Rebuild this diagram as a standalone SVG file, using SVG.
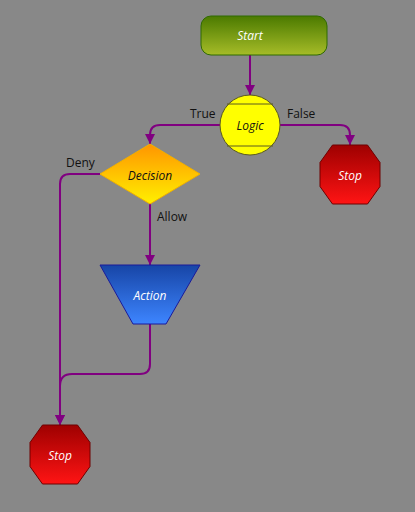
<svg xmlns="http://www.w3.org/2000/svg" width="415" height="512" viewBox="0 0 415 512">
<defs>
<linearGradient id="gStart" x1="0" y1="0" x2="0" y2="1"><stop offset="0" stop-color="#4b7a00"/><stop offset="1" stop-color="#a6bc28"/></linearGradient>
<linearGradient id="gDec" x1="0" y1="0" x2="0" y2="1"><stop offset="0" stop-color="#ff9500"/><stop offset="1" stop-color="#fff000"/></linearGradient>
<linearGradient id="gAct" x1="0" y1="0" x2="0" y2="1"><stop offset="0" stop-color="#1745a6"/><stop offset="1" stop-color="#3d85ff"/></linearGradient>
<linearGradient id="gStop" x1="0" y1="0" x2="0" y2="1"><stop offset="0" stop-color="#9e0000"/><stop offset="1" stop-color="#ff1414"/></linearGradient>
<marker id="arr" viewBox="0 0 10 10" refX="10" refY="5" markerWidth="10" markerHeight="10" markerUnits="userSpaceOnUse" orient="auto"><path d="M0,0 L10,5 L0,10 Z" fill="#800080"/></marker>
</defs>
<style>
.conn{fill:none;stroke:#800080;stroke-width:2;marker-end:url(#arr)}
.lbl{font-family:"Open Sans","Noto Sans",sans-serif;font-size:12px;fill:#111}
.nt{font-family:"Open Sans","Noto Sans",sans-serif;font-size:12px;font-style:italic;text-anchor:middle}
.w{fill:#fff}
.b{fill:#111}
.stop{fill:url(#gStop);stroke:#6e0000;stroke-width:1}
</style>
<rect width="415" height="512" fill="#888888"/>
<g id="connectors">
<path class="conn" d="M250,55 L250,95"/>
<path class="conn" d="M220,125 L160,125 Q150,125 150,135 L150,144"/>
<path class="conn" d="M280,125 L340,125 Q350,125 350,135 L350,145"/>
<path class="conn" d="M150,203 L150,265"/>
<path class="conn" d="M100,174 L70,174 Q60,174 60,184 L60,425"/>
<path class="conn" d="M150,324 L150,364 Q150,374 140,374 L72,374 Q60,374 60,386 L60,425"/>
<text class="lbl" x="190" y="118">True</text>
<text class="lbl" x="287" y="118">False</text>
<text class="lbl" x="66" y="167">Deny</text>
<text class="lbl" x="157" y="221">Allow</text>
</g>
<g id="start">
<rect x="201" y="16" width="126" height="39" rx="10" fill="url(#gStart)" stroke="#2f6a00"/>
<text class="nt w" x="250" y="40">Start</text>
</g>
<g id="logic">
<circle cx="250" cy="125" r="30" fill="#ffff00" stroke="#5a5a20"/>
<line x1="227" y1="104" x2="273" y2="104" stroke="#5a5a20"/>
<line x1="227" y1="146" x2="273" y2="146" stroke="#5a5a20"/>
<text class="nt b" x="250" y="130">Logic</text>
</g>
<g id="decision">
<polygon points="150,144 200,174 150,204 100,174" fill="url(#gDec)" stroke="#f0b000"/>
<text class="nt b" x="150" y="180">Decision</text>
</g>
<g id="stop1">
<polygon class="stop" points="332.5,145 367.5,145 380,162.5 380,186.5 367.5,204 332.5,204 320,186.5 320,162.5"/>
<text class="nt w" x="350" y="180">Stop</text>
</g>
<g id="action">
<polygon points="100,265 200,265 166,324 133,324" fill="url(#gAct)" stroke="#1a1a9a"/>
<text class="nt w" x="150" y="300">Action</text>
</g>
<g id="stop2">
<polygon class="stop" points="42.5,425 77.5,425 90,442.5 90,466.5 77.5,484 42.5,484 30,466.5 30,442.5"/>
<text class="nt w" x="60" y="460">Stop</text>
</g>
</svg>
